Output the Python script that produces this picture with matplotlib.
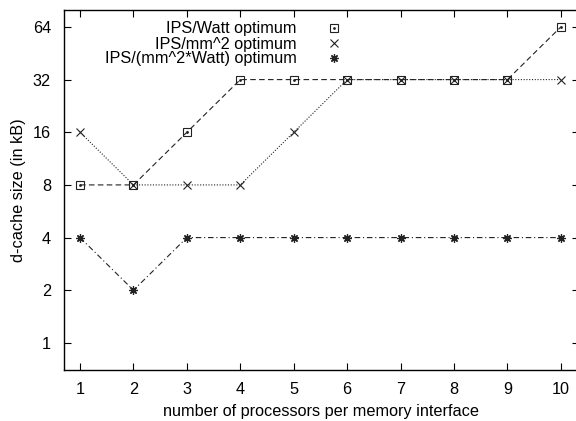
import matplotlib
matplotlib.use("Agg")
import matplotlib.pyplot as plt
from matplotlib.lines import Line2D
from matplotlib.legend_handler import HandlerTuple
from matplotlib.ticker import FixedLocator, FixedFormatter, NullLocator

plt.rcParams["font.family"] = ["Liberation Sans", "DejaVu Sans"]

# data
processors = [1, 2, 3, 4, 5, 6, 7, 8, 9, 10]
ips_watt = [8, 8, 16, 32, 32, 32, 32, 32, 32, 64]
ips_area = [16, 8, 8, 8, 16, 32, 32, 32, 32, 32]
ips_area_watt = [4, 2, 4, 4, 4, 4, 4, 4, 4, 4]
y_ticks = [1, 2, 4, 8, 16, 32, 64]
labels = ["IPS/Watt optimum", "IPS/mm^2 optimum", "IPS/(mm^2*Watt) optimum"]

fig = plt.figure(figsize=(5.76, 4.21), dpi=100)
ax = fig.add_axes([63.5 / 576, 1 - 370 / 421, (579 - 63.5) / 576, (370 - 9.5) / 421])

lc = "#222222"
lw = 0.8
ms = 5.5
fs = 11.7
star = (8, 2, 0)
ax.plot(processors, ips_watt, color=lc, lw=lw, ls=(0, (5, 3)), marker="s",
        ms=ms, mfc="none", mec=lc, mew=0.8)
ax.plot(processors, ips_watt, ls="none", marker=".", ms=2, color=lc)
ax.plot(processors, ips_area, color=lc, lw=lw, ls=(0, (1, 1.5)), marker="x",
        ms=ms, mec=lc, mew=0.8)
ax.plot(processors, ips_area_watt, color=lc, lw=lw, ls=(0, (5, 2.5, 1, 2.5)),
        marker=star, ms=ms + 0.5, mec=lc, mew=0.9)

ax.set_yscale("log", base=2)
ax.set_xlim(0.69, 10.34)
ax.set_ylim(0.7, 80.5)
ax.set_xticks(processors)
ax.yaxis.set_major_locator(FixedLocator(y_ticks))
ax.yaxis.set_major_formatter(FixedFormatter([str(v) for v in y_ticks]))
ax.yaxis.set_minor_locator(NullLocator())
ax.tick_params(direction="in", length=5, width=0.8, top=True, right=True,
               labelsize=fs, pad=9, colors="black")
for s in ax.spines.values():
    s.set_linewidth(1.0)

ax.set_xlabel("number of processors per memory interface", fontsize=fs, labelpad=5)
ax.set_ylabel("d-cache size (in kB)", fontsize=fs, labelpad=5)

h1 = (Line2D([], [], ls="none", marker="s", ms=ms, mfc="none", mec=lc, mew=0.8),
      Line2D([], [], ls="none", marker=".", ms=2, color=lc))
h2 = Line2D([], [], ls="none", marker="x", ms=ms, mec=lc, mew=0.8)
h3 = Line2D([], [], ls="none", marker=star, ms=ms + 0.5, mec=lc, mew=0.9)
fig.legend([h1, h2, h3], labels, handler_map={tuple: HandlerTuple(ndivide=1)},
           loc="upper right", bbox_to_anchor=(342 / 576, 1 - 21.5 / 421),
           markerfirst=False, frameon=False, fontsize=fs, labelspacing=0.0,
           handlelength=1.0, handletextpad=1.8, borderpad=0, borderaxespad=0)

fig.savefig("out.png", dpi=100)
